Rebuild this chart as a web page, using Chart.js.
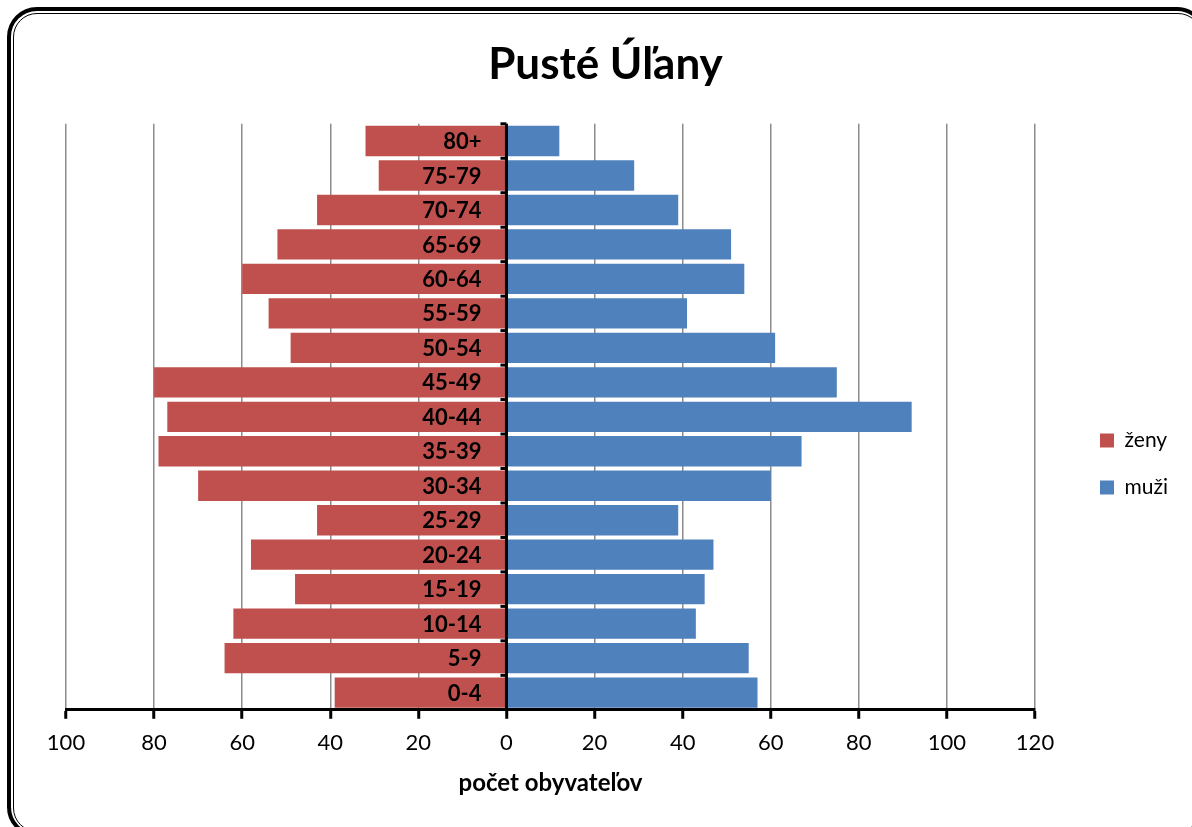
<!DOCTYPE html>
<html>
<head>
<meta charset="utf-8">
<script src="https://cdn.jsdelivr.net/npm/chart.js@4"></script>
<style>
  html, body { margin: 0; padding: 0; background: #fff; }
  body { width: 1192px; height: 827px; position: relative; overflow: hidden; }
  .frame {
    position: absolute; left: 7px; top: 7px; width: 1200px; height: 830px;
    border: 4px solid #000; border-radius: 30px; box-sizing: border-box;
  }
  .frame .inner {
    position: absolute; left: 1.5px; top: 1.5px; right: 1.5px; bottom: 1.5px;
    border: 1.5px solid #000; border-radius: 24px;
  }
  #wrap { position: absolute; left: 0; top: 0; width: 1192px; height: 827px; }
</style>
</head>
<body>
<div class="frame"><div class="inner"></div></div>
<div id="wrap"><canvas id="pyramid"></canvas></div>
<script>
// age groups, top to bottom
const ageGroups = ['80+', '75-79', '70-74', '65-69', '60-64', '55-59', '50-54', '45-49',
  '40-44', '35-39', '30-34', '25-29', '20-24', '15-19', '10-14', '5-9', '0-4'];

// women (drawn on the left)
const zeny = [32, 29, 43, 52, 60, 54, 49, 80, 77, 79, 70, 43, 58, 48, 62, 64, 39];

// men (drawn on the right)
const muzi = [12, 29, 39, 51, 54, 41, 61, 75, 92, 67, 60, 39, 47, 45, 43, 55, 57];

const xTicks = [-100, -80, -60, -40, -20, 0, 20, 40, 60, 80, 100, 120];

const FONT = 'Lato, "Open Sans", sans-serif';

// axis line at zero + age labels over the bars
const middleAxis = {
  id: 'middleAxis',
  afterLayout (chart) {
    // legend sits a bit away from the plot, like in the original
    if (chart.legend) {
      chart.legend.left += 39;
      chart.legend.right += 39;
    }
  },
  afterDatasetsDraw (chart) {
    const ctx = chart.ctx;
    const x = chart.scales.x;
    const y = chart.scales.y;
    const x0 = x.getPixelForValue(0);
    const area = chart.chartArea;
    const step = y.getPixelForValue(1) - y.getPixelForValue(0);
    ctx.save();
    ctx.strokeStyle = '#000';
    ctx.lineWidth = 3;
    ctx.beginPath();
    ctx.moveTo(x0, area.top);
    ctx.lineTo(x0, area.bottom);
    ctx.stroke();
    // small tick marks between categories
    for (let i = 0; i < ageGroups.length; i++) {
      const yb = y.getPixelForValue(i) - step / 2;
      ctx.beginPath();
      ctx.moveTo(x0 - 6, yb);
      ctx.lineTo(x0, yb);
      ctx.stroke();
    }
    ctx.fillStyle = '#000';
    ctx.font = 'bold 22px ' + FONT;
    ctx.textAlign = 'right';
    ctx.textBaseline = 'middle';
    ageGroups.forEach((g, i) => {
      ctx.fillText(g, x0 - 25, y.getPixelForValue(i) + 1);
    });
    ctx.restore();
  }
};

new Chart(document.getElementById('pyramid'), {
  type: 'bar',
  data: {
    labels: ageGroups,
    datasets: [
      {
        label: 'ženy',
        data: zeny.map(v => -v),
        backgroundColor: '#C0504D',
        barPercentage: 0.88,
        categoryPercentage: 1
      },
      {
        label: 'muži',
        data: muzi,
        backgroundColor: '#4F81BD',
        barPercentage: 0.88,
        categoryPercentage: 1
      }
    ]
  },
  options: {
    indexAxis: 'y',
    responsive: true,
    maintainAspectRatio: false,
    animation: false,
    layout: { padding: { left: 20, right: 1, top: 26, bottom: 25 } },
    scales: {
      x: {
        stacked: true,
        min: -100,
        max: 120,
        afterBuildTicks: (s) => { s.ticks = xTicks.map(v => ({ value: v })); },
        afterFit: (s) => { s.paddingRight = 157; s.paddingLeft = 66; },
        grid: {
          color: '#8c8c8c',
          lineWidth: 1.5,
          tickColor: '#000',
          tickWidth: 3,
          tickLength: 9
        },
        border: { color: '#000', width: 3 },
        ticks: {
          color: '#000',
          padding: 11,
          font: { family: FONT, size: 22 },
          callback: (v) => Math.abs(v)
        },
        title: {
          display: true,
          text: 'počet obyvateľov',
          color: '#000',
          font: { family: FONT, size: 24, weight: 'bold' },
          padding: { top: 2 }
        }
      },
      y: {
        stacked: true,
        display: false
      }
    },
    plugins: {
      title: {
        display: true,
        text: 'Pusté Úľany',
        color: '#000',
        font: { family: FONT, size: 44, weight: 'bold' },
        padding: { top: 12, bottom: 33 }
      },
      legend: {
        position: 'right',
        title: {
          display: true,
          text: ' ',
          font: { family: FONT, size: 40 },
          padding: { top: 0, bottom: 52 }
        },
        labels: {
          color: '#000',
          boxWidth: 14,
          boxHeight: 14,
          padding: 26,
          font: { family: FONT, size: 21 }
        }
      },
      tooltip: { enabled: false }
    }
  },
  plugins: [middleAxis]
});
</script>
</body>
</html>
